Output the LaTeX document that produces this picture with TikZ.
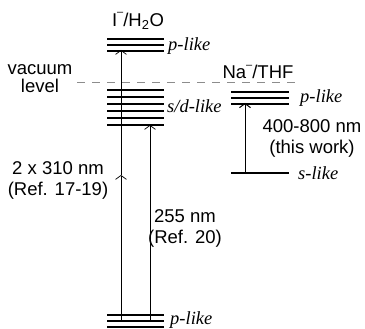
\documentclass[tikz,border=0pt]{standalone}
\usepackage{fontspec}
\setmainfont{Liberation Serif}
\setsansfont{Liberation Sans}
\usetikzlibrary{arrows.meta, positioning}
\newcommand{\chargeminus}{\raisebox{1.1ex}{\fontsize{11}{11}\selectfont --}}
\tikzset{
  level/.style={
    line width=2.8pt
  },
  trans/.style={
    line width=0.7pt,
    -{Straight Barb[length=4pt,width=11pt]}
  },
  vacline/.style={
    black!45,
    line width=0.9pt,
    dash pattern=on 8pt off 7pt
  },
  txt/.style={
    font=\sffamily\fontsize{18.5}{21}\selectfont,
    align=center,
    inner sep=0pt
  },
  orb/.style={
    font=\itshape\fontsize{18.5}{20}\selectfont,
    anchor=west,
    inner sep=0pt
  }
}

\begin{document}
\begin{tikzpicture}[x=1pt, y=-1pt]
  \useasboundingbox (0,0) rectangle (365,329);

  % vacuum level
  \coordinate (vacL) at (77,82);
  \coordinate (vacR) at (295,82);
  \draw[vacline] (vacL) -- (vacR);

  % I-/H2O levels
  \draw[level] (107,39) -- (164,39);
  \draw[level] (107,45) -- (164,45);
  \draw[level] (107,51) -- (164,51);
  \draw[level] (107,90) -- (164,90);
  \draw[level] (107,97) -- (164,97);
  \draw[level] (107,104) -- (164,104);
  \draw[level] (107,111) -- (164,111);
  \draw[level] (107,118) -- (164,118);
  \draw[level] (107,125) -- (164,125);
  \draw[level] (107,315) -- (164,315);
  \draw[level] (107,321) -- (164,321);
  \draw[level] (107,327) -- (164,327);

  % Na-/THF levels
  \draw[level] (231,92) -- (289,92);
  \draw[level] (231,98) -- (289,98);
  \draw[level] (231,104) -- (289,104);
  \draw[level] (231,173) -- (289,173);

  % transitions
  \coordinate (twoB) at (121,321);
  \coordinate (twoM) at (121,175);
  \coordinate (twoT) at (121,50);
  \coordinate (oneB) at (150,321);
  \coordinate (oneT) at (150,125);
  \coordinate (naB) at (245,173);
  \coordinate (naT) at (245,103);
  \draw[trans] (twoB) -- (twoM);
  \draw[trans] (twoM) -- (twoT);
  \draw[trans] (oneB) -- (oneT);
  \draw[trans, line width=1pt] (naB) -- (naT);

  % labels
  \node[txt] (iodide) at (138,21) {I\chargeminus/H\textsubscript{2}O};
  \node[txt] (sodide) at (258,72) {Na\chargeminus/THF};
  \node[txt] (vac) at (40,79) {vacuum\\[-3pt]level};
  \node[txt] (twophoton) at (58,180) {2 x 310 nm\\(Ref. 17-19)};
  \node[txt] (onephoton) at (185,228) {255 nm\\(Ref. 20)};
  \node[txt] (thiswork) at (312,138) {400-800 nm\\(this work)};

  \node[orb] (ptop) at (168,46) {p-like};
  \node[orb] (sd) at (167,106) {s/d-like};
  \node[orb] (pbot) at (170,320) {p-like};
  \node[orb] (pna) at (300,98) {p-like};
  \node[orb] (sna) at (298,173) {s-like};
\end{tikzpicture}
\end{document}
